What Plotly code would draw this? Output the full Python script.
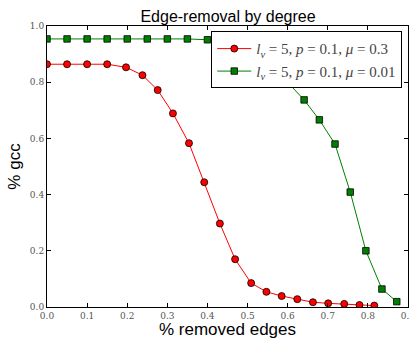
import plotly.graph_objects as go

# Data
red_x = [0.0, 0.05, 0.10, 0.15, 0.197, 0.238, 0.276, 0.314, 0.354, 0.392, 0.431,
         0.469, 0.509, 0.547, 0.585, 0.624, 0.663, 0.701, 0.741, 0.779, 0.816]
red_y = [0.864, 0.864, 0.864, 0.864, 0.853, 0.825, 0.772, 0.689, 0.583, 0.444, 0.297,
         0.170, 0.085, 0.054, 0.039, 0.028, 0.017, 0.013, 0.011, 0.007, 0.005]

green_x = [0.0, 0.05, 0.10, 0.15, 0.20, 0.25, 0.30, 0.35, 0.40, 0.45, 0.50, 0.55,
           0.599, 0.641, 0.679, 0.718, 0.756, 0.795, 0.835, 0.872]
green_y = [0.954, 0.954, 0.954, 0.954, 0.954, 0.954, 0.954, 0.954, 0.951, 0.945, 0.925, 0.875,
           0.801, 0.737, 0.666, 0.580, 0.409, 0.200, 0.064, 0.019]

red_name = "<i>l</i><sub><i>v</i></sub> = 5, <i>p</i> = 0.1, <i>μ</i> = 0.3"
green_name = "<i>l</i><sub><i>v</i></sub> = 5, <i>p</i> = 0.1, <i>μ</i> = 0.01"

x_ticks = [0.0, 0.1, 0.2, 0.3, 0.4, 0.5, 0.6, 0.7, 0.8, 0.9]
y_ticks = [0.0, 0.2, 0.4, 0.6, 0.8, 1.0]

fig = go.Figure()
fig.add_trace(go.Scatter(
    x=red_x, y=red_y, mode="lines+markers", name=red_name, legendgroup="a",
    line=dict(color="#ff0000", width=1),
    marker=dict(symbol="circle", size=7, color="#ff0000", line=dict(color="black", width=0.8)),
))
fig.add_trace(go.Scatter(
    x=green_x, y=green_y, mode="lines+markers", name=green_name, legendgroup="b",
    line=dict(color="#008000", width=1),
    marker=dict(symbol="square", size=6.5, color="#008000", line=dict(color="black", width=0.8)),
))

tickfont = dict(family="DejaVu Serif, Liberation Serif, serif", size=9, color="#555555")
axis_common = dict(
    showgrid=False, zeroline=False, showline=True, linecolor="black", linewidth=1,
    mirror="allticks", ticks="inside", ticklen=4, tickcolor="black", tickwidth=1,
    tickfont=tickfont, tickformat=".1f", automargin=False, ticklabeloverflow="allow",
)

fig.update_layout(
    width=409, height=339,
    margin=dict(l=47, r=1, t=26, b=32),
    paper_bgcolor="white", plot_bgcolor="white",
    title=dict(text="Edge-removal by degree", x=0.5575, xanchor="center",
               y=0.935, yanchor="bottom", automargin=False,
               font=dict(family="Liberation Sans, Arial, sans-serif", size=16, color="black")),
    xaxis=dict(range=[0, 0.9], tickvals=x_ticks, **axis_common,
               title=dict(text="% removed edges", standoff=2,
                          font=dict(family="Liberation Sans, Arial, sans-serif", size=17, color="black"))),
    yaxis=dict(range=[0, 1.0], tickvals=y_ticks, **axis_common,
               title=dict(text="% gcc", standoff=4,
                          font=dict(family="Liberation Sans, Arial, sans-serif", size=17, color="black"))),
    legend=dict(x=0.455, y=0.981, xanchor="left", yanchor="top",
                bgcolor="white", bordercolor="black", borderwidth=1,
                font=dict(family="Liberation Serif, Times New Roman, serif", size=15, color="#444444"),
                itemwidth=34, tracegroupgap=0),
    showlegend=True,
)

fig.write_html("out.html")
